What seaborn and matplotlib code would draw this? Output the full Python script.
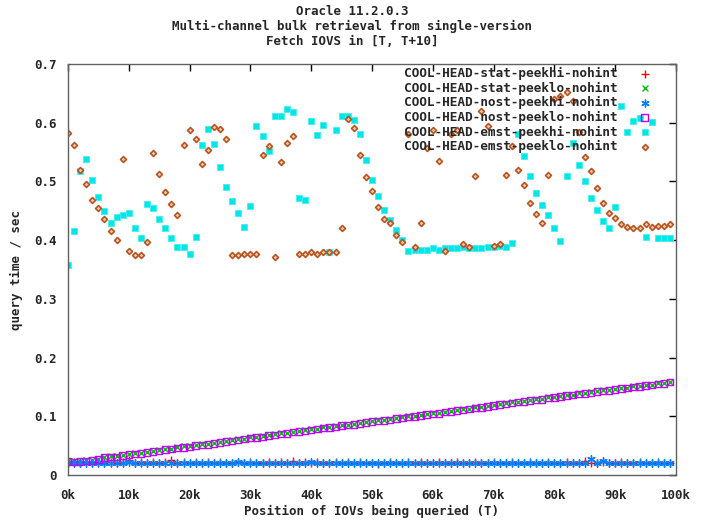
import matplotlib
matplotlib.use("Agg")
import matplotlib.pyplot as plt
import seaborn as sns
import pandas as pd

# ---------------- data ----------------
positions_k = list(range(100))

stat_peekhi = [0.022, 0.022, 0.021, 0.022, 0.021, 0.022, 0.021, 0.022, 0.021, 0.022,
               0.026, 0.021, 0.022, 0.021, 0.022, 0.021, 0.022, 0.025, 0.021, 0.022,
               0.021, 0.022, 0.021, 0.022, 0.021, 0.022, 0.021, 0.021, 0.022, 0.021,
               0.022, 0.021, 0.021, 0.022, 0.021, 0.022, 0.021, 0.024, 0.021, 0.022,
               0.021, 0.022, 0.021, 0.021, 0.022, 0.021, 0.022, 0.021, 0.022, 0.021,
               0.020, 0.019, 0.021, 0.022, 0.021, 0.021, 0.022, 0.021, 0.022, 0.021,
               0.021, 0.022, 0.021, 0.021, 0.022, 0.021, 0.021, 0.022, 0.021, 0.021,
               0.022, 0.021, 0.021, 0.022, 0.021, 0.021, 0.022, 0.021, 0.021, 0.022,
               0.021, 0.021, 0.022, 0.021, 0.021, 0.023, 0.021, 0.021, 0.022, 0.021,
               0.021, 0.022, 0.021, 0.021, 0.022, 0.021, 0.021, 0.022, 0.021, 0.021]

stat_peeklo = [0.024, 0.023, 0.024, 0.025, 0.026, 0.028, 0.031, 0.032, 0.033, 0.034,
               0.036, 0.037, 0.038, 0.040, 0.041, 0.043, 0.044, 0.045, 0.047, 0.049,
               0.049, 0.051, 0.052, 0.053, 0.055, 0.056, 0.058, 0.059, 0.061, 0.062,
               0.064, 0.065, 0.067, 0.068, 0.069, 0.071, 0.072, 0.074, 0.075, 0.076,
               0.078, 0.079, 0.081, 0.082, 0.083, 0.085, 0.086, 0.087, 0.089, 0.090,
               0.092, 0.093, 0.094, 0.095, 0.097, 0.098, 0.100, 0.101, 0.102, 0.104,
               0.105, 0.106, 0.108, 0.109, 0.111, 0.112, 0.113, 0.115, 0.116, 0.118,
               0.119, 0.121, 0.122, 0.124, 0.125, 0.126, 0.128, 0.129, 0.130, 0.132,
               0.133, 0.135, 0.136, 0.137, 0.139, 0.140, 0.141, 0.143, 0.144, 0.145,
               0.147, 0.148, 0.149, 0.151, 0.152, 0.153, 0.154, 0.156, 0.157, 0.159]

nost_peekhi = [0.021, 0.021, 0.020, 0.021, 0.021, 0.020, 0.021, 0.020, 0.021, 0.021,
               0.022, 0.020, 0.021, 0.020, 0.021, 0.021, 0.020, 0.021, 0.021, 0.020,
               0.021, 0.021, 0.020, 0.021, 0.021, 0.020, 0.021, 0.021, 0.022, 0.020,
               0.021, 0.021, 0.020, 0.021, 0.021, 0.020, 0.021, 0.021, 0.020, 0.021,
               0.022, 0.020, 0.021, 0.021, 0.020, 0.021, 0.021, 0.020, 0.021, 0.021,
               0.020, 0.021, 0.021, 0.020, 0.021, 0.021, 0.020, 0.021, 0.021, 0.020,
               0.021, 0.021, 0.020, 0.021, 0.021, 0.020, 0.021, 0.021, 0.020, 0.021,
               0.021, 0.020, 0.021, 0.021, 0.020, 0.021, 0.021, 0.020, 0.021, 0.021,
               0.020, 0.021, 0.021, 0.020, 0.021, 0.021, 0.027, 0.021, 0.023, 0.021,
               0.020, 0.021, 0.021, 0.020, 0.021, 0.021, 0.020, 0.021, 0.021, 0.020]

nost_peeklo = [0.023, 0.022, 0.023, 0.024, 0.025, 0.026, 0.030, 0.031, 0.031, 0.033,
               0.035, 0.036, 0.037, 0.038, 0.040, 0.041, 0.043, 0.044, 0.046, 0.047,
               0.048, 0.050, 0.051, 0.052, 0.054, 0.055, 0.057, 0.058, 0.060, 0.061,
               0.063, 0.064, 0.065, 0.067, 0.068, 0.070, 0.071, 0.073, 0.074, 0.075,
               0.077, 0.078, 0.080, 0.081, 0.082, 0.084, 0.085, 0.086, 0.088, 0.089,
               0.091, 0.092, 0.093, 0.094, 0.096, 0.097, 0.099, 0.100, 0.101, 0.103,
               0.104, 0.105, 0.107, 0.108, 0.110, 0.111, 0.112, 0.114, 0.115, 0.117,
               0.118, 0.120, 0.121, 0.123, 0.124, 0.125, 0.127, 0.128, 0.129, 0.131,
               0.132, 0.134, 0.135, 0.136, 0.138, 0.139, 0.140, 0.142, 0.143, 0.144,
               0.146, 0.147, 0.148, 0.150, 0.151, 0.152, 0.153, 0.155, 0.156, 0.158]

emst_peekhi = [0.357, 0.415, 0.518, 0.539, 0.502, 0.473, 0.449, 0.429, 0.440, 0.443,
               0.446, 0.421, 0.404, 0.461, 0.455, 0.436, 0.420, 0.404, 0.389, 0.389,
               0.376, 0.406, 0.562, 0.590, 0.564, 0.524, 0.490, 0.466, 0.446, 0.423,
               0.459, 0.594, 0.578, 0.552, 0.612, 0.611, 0.624, 0.619, 0.472, 0.469,
               0.603, 0.579, 0.596, 0.379, 0.588, 0.612, 0.611, 0.605, 0.580, 0.537,
               0.503, 0.476, 0.451, 0.434, 0.417, 0.401, 0.381, 0.384, 0.384, 0.384,
               0.386, 0.384, 0.386, 0.387, 0.387, 0.388, 0.387, 0.387, 0.387, 0.389,
               0.389, 0.390, 0.389, 0.395, 0.581, 0.544, 0.509, 0.481, 0.460, 0.442,
               0.421, 0.398, 0.509, 0.566, 0.528, 0.500, 0.472, 0.451, 0.433, 0.420,
               0.456, 0.628, 0.585, 0.603, 0.608, 0.406, 0.601, 0.403, 0.404, 0.404]

emst_peeklo = [0.582, 0.562, 0.520, 0.496, 0.468, 0.455, 0.436, 0.416, 0.400, 0.539,
               0.381, 0.375, 0.375, 0.397, 0.549, 0.512, 0.482, 0.462, 0.442, 0.562,
               0.588, 0.573, 0.529, 0.554, 0.592, 0.590, 0.573, 0.374, 0.374, 0.376,
               0.376, 0.376, 0.545, 0.560, 0.372, 0.533, 0.565, 0.577, 0.376, 0.377,
               0.379, 0.376, 0.379, 0.379, 0.379, 0.421, 0.607, 0.591, 0.545, 0.507,
               0.484, 0.456, 0.436, 0.430, 0.408, 0.397, 0.580, 0.389, 0.430, 0.557,
               0.588, 0.535, 0.381, 0.580, 0.588, 0.393, 0.389, 0.509, 0.620, 0.595,
               0.390, 0.393, 0.511, 0.560, 0.520, 0.494, 0.464, 0.445, 0.430, 0.511,
               0.641, 0.645, 0.652, 0.637, 0.584, 0.541, 0.517, 0.489, 0.464, 0.447,
               0.437, 0.427, 0.423, 0.420, 0.421, 0.427, 0.423, 0.424, 0.424, 0.428]

series_names = ["COOL-HEAD-stat-peekhi-nohint", "COOL-HEAD-stat-peeklo-nohint",
                "COOL-HEAD-nost-peekhi-nohint", "COOL-HEAD-nost-peeklo-nohint",
                "COOL-HEAD-emst-peekhi-nohint", "COOL-HEAD-emst-peeklo-nohint"]
series_values = [stat_peekhi, stat_peeklo, nost_peekhi, nost_peeklo, emst_peekhi, emst_peeklo]

xtick_values = [0, 10000, 20000, 30000, 40000, 50000, 60000, 70000, 80000, 90000, 100000]
xtick_labels = ["0k", "10k", "20k", "30k", "40k", "50k", "60k", "70k", "80k", "90k", "100k"]
ytick_values = [0, 0.1, 0.2, 0.3, 0.4, 0.5, 0.6, 0.7]
ytick_labels = ["0", "0.1", "0.2", "0.3", "0.4", "0.5", "0.6", "0.7"]

title_text = "Oracle 11.2.0.3\nMulti-channel bulk retrieval from single-version\nFetch IOVS in [T, T+10]"
xlabel_text = "Position of IOVs being queried (T)"
ylabel_text = "query time / sec"

# ---------------- style ----------------
sns.set_style("white")
plt.rcParams['font.family'] = ['DejaVu Sans Mono']
plt.rcParams['font.weight'] = 'bold'
FS = 9

W, H = 704, 521
fig = plt.figure(figsize=(W / 100, H / 100), dpi=100)
ax = fig.add_axes([68 / W, 46 / H, 608 / W, 411 / H])

styles = [
    dict(marker="+", color="#ff0000", s=30, linewidths=1.0),
    dict(marker="x", color="#00c000", s=18, linewidths=1.0),
    dict(marker=(6, 2, 0), color="#0080ff", s=28, linewidths=1.0),
    dict(marker="s", color="#c000ff", facecolor="none", edgecolor="#c000ff", s=22, linewidths=1.0),
    dict(marker="s", color="#00e5e5", edgecolor="#40f0f0", s=24, linewidths=0.6),
    dict(marker="D", color="#b85420", facecolor="#f0c8a8", edgecolor="#b85420", s=9, linewidths=1.2),
]

for name, vals, st in zip(series_names, series_values, styles):
    df = pd.DataFrame({"T": [k * 1000 for k in positions_k], "t": vals})
    sns.scatterplot(data=df, x="T", y="t", ax=ax, label=name, legend=False, **st)

ax.set_xlim(0, 100000)
ax.set_ylim(0, 0.7)
ax.set_xticks(xtick_values)
ax.set_xticklabels(xtick_labels, fontsize=FS, fontweight='bold')
ax.set_yticks(ytick_values)
ax.set_yticklabels(ytick_labels, fontsize=FS, fontweight='bold')
ax.tick_params(direction="in", length=5, width=1, top=True, right=True,
               color="black", pad=8)
ax.tick_params(axis="x", pad=10)
for sp in ax.spines.values():
    sp.set_color("#606060")
    sp.set_linewidth(1.0)
ax.set_xlabel("")
ax.set_ylabel("")

fig.text(0.5, 1 - 5 / H, title_text, ha="center", va="top", fontsize=FS,
         fontweight="bold", linespacing=1.2)
fig.text(372 / W, 1 - 511 / H, xlabel_text, ha="center", va="center",
         fontsize=FS, fontweight="bold")
fig.text(16 / W, 1 - 270 / H, ylabel_text, ha="center", va="center",
         rotation=90, fontsize=FS, fontweight="bold")

handles, labels = ax.get_legend_handles_labels()
leg = ax.legend(handles, labels, loc="upper right", bbox_to_anchor=(0.978, 1.005),
                frameon=False, markerfirst=False, fontsize=9.2, handlelength=2.0,
                handletextpad=1.1, labelspacing=0.12, borderaxespad=0, borderpad=0.4,
                scatterpoints=1)
for t in leg.get_texts():
    t.set_fontweight("bold")

fig.savefig("out.png", dpi=100)
